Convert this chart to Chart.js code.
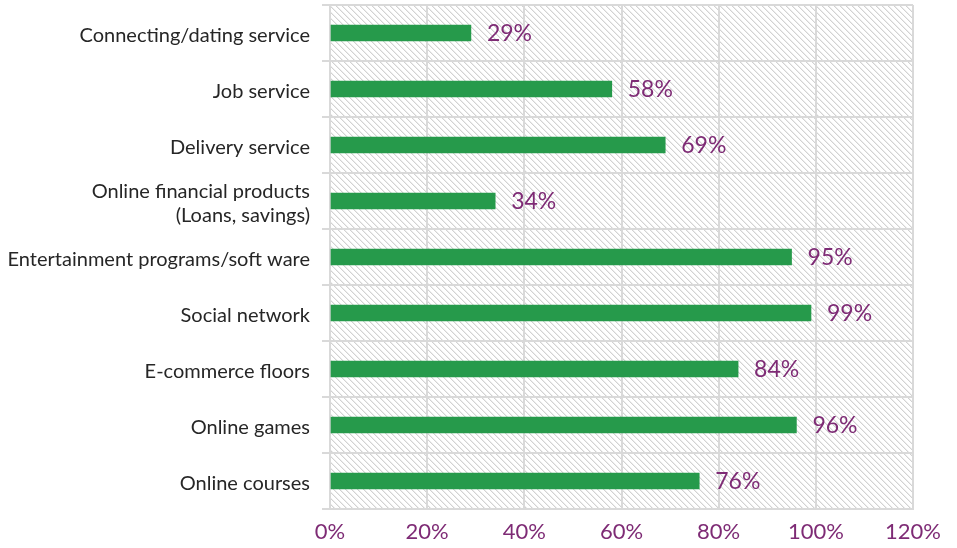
<!DOCTYPE html>
<html>
<head>
<meta charset="utf-8">
<script src="https://cdn.jsdelivr.net/npm/chart.js@4/dist/chart.umd.min.js"></script>
<style>
  html, body { margin: 0; padding: 0; background: #ffffff; }
  #wrap { width: 957px; height: 548px; position: relative; }
</style>
</head>
<body>
<div id="wrap"><canvas id="chart"></canvas></div>
<script>
// Share of respondents using each kind of online service (%)
const categories = [
  "Connecting/dating service",
  "Job service",
  "Delivery service",
  ["Online financial products", "(Loans, savings)"],
  "Entertainment programs/soft ware",
  "Social network",
  "E-commerce floors",
  "Online games",
  "Online courses"
];
const usageValues = [29, 58, 69, 34, 95, 99, 84, 96, 76];
const axisTicks = [0, 20, 40, 60, 80, 100, 120];

const GREEN = "#269A4B";
const PURPLE = "#7E2B75";
const GRID = "#D9D9D9";
const FONT = "Lato, 'Open Sans', sans-serif";

// Diagonal hatch fill for the plot area
function makeHatch() {
  const c = document.createElement("canvas");
  c.width = 6; c.height = 6;
  const g = c.getContext("2d");
  g.fillStyle = "#ffffff";
  g.fillRect(0, 0, 6, 6);
  for (let i = 0; i < 6; i++) {
    g.fillStyle = "#D2D2D2";
    g.fillRect(i, i, 1, 1);
    g.fillStyle = "#EDEDED";
    g.fillRect((i + 1) % 6, i, 1, 1);
  }
  return g.createPattern(c, "repeat");
}

const hatchBackground = {
  id: "hatchBackground",
  beforeDraw(chart) {
    const { ctx, chartArea: a } = chart;
    ctx.save();
    ctx.fillStyle = makeHatch();
    ctx.fillRect(a.left, a.top, a.right - a.left, a.bottom - a.top);
    ctx.restore();
  }
};

// Percentage labels to the right of each bar
const valueLabels = {
  id: "valueLabels",
  afterDatasetsDraw(chart) {
    const { ctx } = chart;
    const meta = chart.getDatasetMeta(0);
    ctx.save();
    ctx.font = "23px " + FONT;
    ctx.fillStyle = PURPLE;
    ctx.textAlign = "left";
    ctx.textBaseline = "middle";
    meta.data.forEach((bar, i) => {
      ctx.fillText(usageValues[i] + "%", bar.x + 16, bar.y + 1);
    });
    ctx.restore();
  }
};

new Chart(document.getElementById("chart"), {
  type: "bar",
  data: {
    labels: categories,
    datasets: [{
      data: usageValues,
      backgroundColor: GREEN,
      borderWidth: 0,
      barThickness: 16
    }]
  },
  options: {
    indexAxis: "y",
    responsive: true,
    maintainAspectRatio: false,
    animation: false,
    layout: { padding: { top: 5, right: 44, left: 0, bottom: 0 } },
    plugins: {
      legend: { display: false },
      tooltip: { enabled: false }
    },
    scales: {
      x: {
        min: axisTicks[0],
        max: axisTicks[axisTicks.length - 1],
        afterBuildTicks(scale) {
          scale.ticks = axisTicks.map(v => ({ value: v }));
        },
        afterFit(scale) { scale.height = 39; },
        grid: { color: GRID, lineWidth: 2, drawTicks: false },
        border: { color: GRID, width: 2 },
        ticks: {
          padding: 10,
          color: PURPLE,
          font: { family: FONT, size: 22 },
          callback: v => v + "%"
        }
      },
      y: {
        afterFit(scale) {
          scale.width = 330;
          scale.paddingTop = 0;
          scale.paddingBottom = 0;
        },
        grid: { color: GRID, lineWidth: 2, drawTicks: true, tickLength: 8, offset: true },
        border: { color: GRID, width: 2 },
        ticks: {
          padding: 12,
          labelOffset: 3,
          color: "#262626",
          font: { family: FONT, size: 20, lineHeight: 1.2 }
        }
      }
    }
  },
  plugins: [hatchBackground, valueLabels]
});
</script>
</body>
</html>
